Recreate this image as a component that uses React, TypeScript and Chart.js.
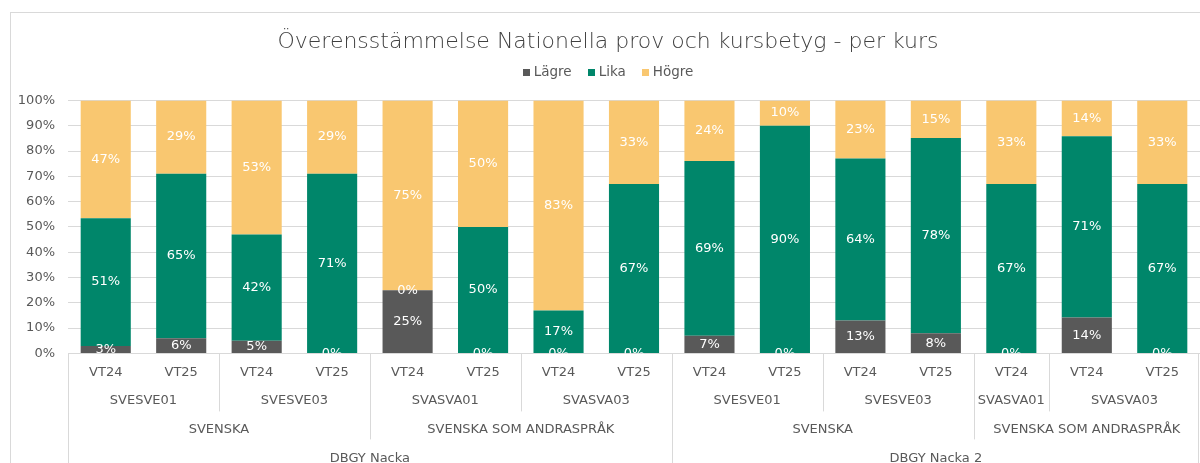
import React, { useEffect, useRef } from 'react';
import { Chart, registerables } from 'chart.js';

Chart.register(...registerables);

// ---- Data ----
const periods = ['VT24', 'VT25', 'VT24', 'VT25', 'VT24', 'VT25', 'VT24', 'VT25', 'VT24', 'VT25', 'VT24', 'VT25', 'VT24', 'VT24', 'VT25'];
const courseLabels = ['SVESVE01', 'SVESVE03', 'SVASVA01', 'SVASVA03', 'SVESVE01', 'SVESVE03', 'SVASVA01', 'SVASVA03'];
const courseSpans = [2, 2, 2, 2, 2, 2, 1, 2];
const subjectLabels = ['SVENSKA', 'SVENSKA SOM ANDRASPRÅK', 'SVENSKA', 'SVENSKA SOM ANDRASPRÅK'];
const subjectSpans = [4, 4, 4, 3];
const schoolLabels = ['DBGY Nacka', 'DBGY Nacka 2'];
const schoolSpans = [8, 7];

const seriesNames = ['Lägre', 'Lika', 'Högre'];
const lagre = [3, 6, 5, 0, 25, 0, 0, 0, 7, 0, 13, 8, 0, 14, 0];
const lika = [51, 65, 42, 71, 0, 50, 17, 67, 69, 90, 64, 78, 67, 71, 67];
const hogre = [47, 29, 53, 29, 75, 50, 83, 33, 24, 10, 23, 15, 33, 14, 33];

const titleText = 'Överensstämmelse Nationella prov och kursbetyg - per kurs';

// 100% stacked: each column is normalised to its own total
const totals = periods.map((_, i) => lagre[i] + lika[i] + hogre[i]);
const share = (arr: number[]) => arr.map((v, i) => (totals[i] ? (v / totals[i]) * 100 : 0));

// ---- Styles ----
const FONT = '"DejaVu Sans", sans-serif';
const TEXT = '#595959';
const GRID = '#d9d9d9';
const COLORS = ['#595959', '#00866A', '#F9C770'];

const frame = {
  id: 'frame',
  beforeDraw(chart: any) {
    const { ctx } = chart;
    ctx.save();
    ctx.fillStyle = '#ffffff';
    ctx.fillRect(0, 0, chart.width, chart.height);
    ctx.strokeStyle = GRID;
    ctx.lineWidth = 1;
    ctx.strokeRect(10.5, 12.5, chart.width + 20, chart.height + 20);
    ctx.restore();
  },
};

const dataLabels = {
  id: 'dataLabels',
  afterDatasetsDraw(chart: any) {
    const { ctx, chartArea } = chart;
    ctx.save();
    ctx.beginPath();
    ctx.rect(chartArea.left, chartArea.top, chartArea.right - chartArea.left, chartArea.bottom - chartArea.top);
    ctx.clip();
    ctx.font = `13px ${FONT}`;
    ctx.fillStyle = '#ffffff';
    ctx.textAlign = 'center';
    ctx.textBaseline = 'middle';
    chart.data.datasets.forEach((ds: any, di: number) => {
      const meta = chart.getDatasetMeta(di);
      meta.data.forEach((el: any, i: number) => {
        const p = el.getProps(['x', 'y', 'base'], true);
        ctx.fillText(`${ds.shown[i]}%`, p.x, (p.y + p.base) / 2);
      });
    });
    ctx.restore();
  },
};

const legendPlugin = {
  id: 'customLegend',
  afterDraw(chart: any) {
    const { ctx } = chart;
    const tb = chart.titleBlock;
    const cx = tb ? (tb.left + tb.right) / 2 : chart.width / 2;
    const y = 72;
    const box = 7;
    const gap = 4;
    const itemGap = 16;
    ctx.save();
    ctx.font = `13.5px ${FONT}`;
    const items = chart.data.datasets.map((ds: any) => ({
      text: ds.label,
      color: ds.backgroundColor,
      w: box + gap + ctx.measureText(ds.label).width,
    }));
    const total = items.reduce((s: number, it: any) => s + it.w, 0) + itemGap * (items.length - 1);
    let x = cx - total / 2;
    ctx.textBaseline = 'middle';
    ctx.textAlign = 'left';
    items.forEach((it: any) => {
      ctx.fillStyle = it.color;
      ctx.fillRect(Math.round(x), Math.round(y - box / 2), box, box);
      ctx.fillStyle = TEXT;
      ctx.fillText(it.text, x + box + gap, y);
      x += it.w + itemGap;
    });
    ctx.restore();
  },
};

const groupAxis = {
  id: 'groupAxis',
  afterDraw(chart: any) {
    const { ctx, chartArea } = chart;
    const xs = chart.scales.x;
    const n = periods.length;
    const w = (xs.getPixelForValue(n - 1) - xs.getPixelForValue(0)) / (n - 1);
    const edge = (i: number) => xs.getPixelForValue(0) - w / 2 + i * w;
    const b = chartArea.bottom;
    const H = chart.height;
    const rows = [
      { labels: courseLabels, spans: courseSpans, y: b + 47.5, end: b + 58 },
      { labels: subjectLabels, spans: subjectSpans, y: b + 76, end: b + 86 },
      { labels: schoolLabels, spans: schoolSpans, y: b + 105, end: H },
    ];
    ctx.save();
    ctx.strokeStyle = GRID;
    ctx.lineWidth = 1;
    ctx.fillStyle = TEXT;
    ctx.font = `13px ${FONT}`;
    ctx.textAlign = 'center';
    ctx.textBaseline = 'middle';
    const vline = (x: number, y1: number, y2: number) => {
      const px = Math.round(x) + 0.5;
      ctx.beginPath();
      ctx.moveTo(px, y1);
      ctx.lineTo(px, y2);
      ctx.stroke();
    };
    vline(edge(0), b, H);
    vline(edge(n) - 2, b, H);
    rows.forEach((row) => {
      let start = 0;
      row.labels.forEach((lab, k) => {
        const end = start + row.spans[k];
        const x1 = edge(start);
        const x2 = edge(end);
        ctx.fillText(lab, (x1 + x2) / 2, row.y);
        if (end < n) vline(x2, b, row.end);
        start = end;
      });
    });
    ctx.restore();
  },
};

export default function App() {
  const ref = useRef<HTMLCanvasElement | null>(null);

  useEffect(() => {
    if (!ref.current) return;
    const chart = new Chart(ref.current, {
      type: 'bar',
      data: {
        labels: periods,
        datasets: [
          { label: seriesNames[0], data: share(lagre), shown: lagre, backgroundColor: COLORS[0] } as any,
          { label: seriesNames[1], data: share(lika), shown: lika, backgroundColor: COLORS[1] } as any,
          { label: seriesNames[2], data: share(hogre), shown: hogre, backgroundColor: COLORS[2] } as any,
        ],
      },
      options: {
        animation: false,
        responsive: true,
        maintainAspectRatio: false,
        datasets: { bar: { barPercentage: 0.664, categoryPercentage: 1 } },
        layout: { padding: { left: 16, right: 0, top: 0, bottom: 72 } },
        plugins: {
          legend: { display: false },
          tooltip: { enabled: false },
          title: {
            display: true,
            text: titleText,
            color: '#404040',
            font: { family: FONT, size: 22, weight: '300' },
            padding: { top: 29, bottom: 45 },
          },
        },
        scales: {
          x: {
            stacked: true,
            grid: { display: false, drawTicks: false },
            border: { display: false },
            ticks: {
              color: TEXT,
              font: { family: FONT, size: 13 },
              padding: 11,
              maxRotation: 0,
              autoSkip: false,
            },
          },
          y: {
            stacked: true,
            min: 0,
            max: 100,
            afterFit: (s: any) => {
              s.width = 52;
            },
            grid: { color: GRID, drawTicks: false },
            border: { display: false },
            ticks: {
              stepSize: 10,
              color: TEXT,
              font: { family: FONT, size: 13 },
              padding: 13,
              callback: (v: any) => `${v}%`,
            },
          },
        },
      },
      plugins: [frame, dataLabels, legendPlugin, groupAxis],
    });
    return () => chart.destroy();
  }, []);

  return (
    <div style={{ position: 'fixed', left: 0, top: 0, width: 1200, height: 463, background: '#fff' }}>
      <canvas ref={ref} />
    </div>
  );
}
